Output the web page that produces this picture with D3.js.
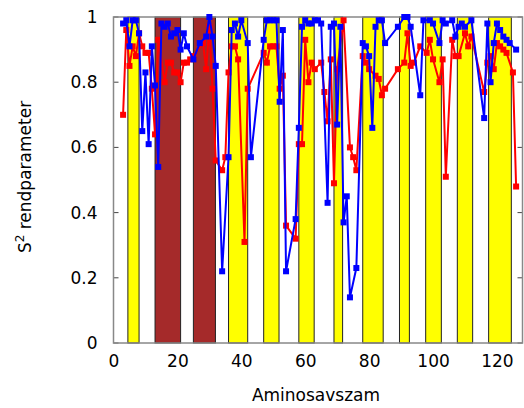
<!DOCTYPE html>
<html>
<head>
<meta charset="utf-8">
<script src="https://cdn.jsdelivr.net/npm/d3@7"></script>
<style>
body{margin:0;background:#fff;}
text{font-family:"DejaVu Sans",sans-serif;}
</style>
</head>
<body>
<svg id="chart" width="524" height="408"></svg>
<script>
// Shaded regions (residue ranges)
const yellowStart = [4.5, 36, 47, 58, 69, 78, 89.5, 97.7, 107.6, 117.4];
const yellowEnd   = [8, 42, 51.8, 62.8, 71.7, 84.4, 92.6, 102.6, 112.4, 124.5];
const brownStart = [13, 25];
const brownEnd   = [21, 31.9];

// Red series
const redX = [3,4,5,6,7,8,9,10,11,12,13,14,16,17,18,19,20,21,22,23,24,25,28,29,30,31,32,34,35,36,37,38,39,41,42,47,48,49,50,51,52,53,54,57,58,59,60,61,62,63,65,66,67,68,69,70,72,74,75,76,78,79,80,82,83,84,85,89,91,92,93,94,96,98,99,100,102,103,104,106,107,108,110,111,112,116,117,118,119,120,121,122,123,125,126];
const redY = [0.70,0.96,0.85,0.91,0.88,0.95,0.91,0.89,0.89,0.78,0.64,0.93,0.80,0.86,0.86,0.83,0.83,0.80,0.86,0.86,0.87,0.88,0.92,0.84,0.97,0.78,0.56,0.53,0.57,0.83,0.91,0.91,0.87,0.31,0.78,0.89,0.86,0.91,0.91,0.91,0.78,0.82,0.36,0.32,0.61,0.61,0.93,0.80,0.86,0.84,0.86,0.77,0.68,0.87,0.49,0.84,0.99,0.60,0.57,0.53,0.88,0.86,0.84,0.82,0.81,0.76,0.78,0.84,0.86,0.95,0.85,0.86,0.91,0.89,0.93,0.87,0.80,0.87,0.51,0.93,0.88,0.88,0.95,0.91,0.94,0.77,0.86,0.88,0.84,0.92,0.91,0.90,0.89,0.83,0.48];

// Blue series
const blueX = [3,4,5,6,7,8,9,10,11,12,13,14,15,16,17,18,19,20,21,22,23,25,27,29,30,31,32,34,36,37,38,39,40,42,43,47,48,49,50,51,52,53,54,57,58,59,60,61,62,63,64,65,67,68,69,70,71,72,73,74,76,78,79,80,81,82,83,84,85,89,91,92,93,96,97,99,100,102,103,104,106,107,108,109,110,112,116,117,118,119,120,121,122,123,124,126];
const blueY = [0.98,0.99,0.91,0.99,0.99,0.95,0.65,0.83,0.61,0.91,0.79,0.54,0.98,0.97,0.98,0.94,0.95,0.96,0.90,0.95,0.91,0.87,0.92,0.94,1.00,0.94,0.85,0.22,0.57,0.96,0.98,0.94,0.99,0.92,0.57,0.93,0.99,0.99,0.99,0.99,0.74,0.96,0.22,0.38,0.66,0.97,0.99,0.98,0.98,0.99,0.99,0.98,0.43,0.97,0.98,0.67,0.97,0.37,0.45,0.14,0.23,0.92,0.91,0.88,0.66,0.97,0.99,0.99,0.92,0.97,1.00,1.00,0.97,0.76,0.99,0.99,0.98,0.92,0.99,0.98,0.99,0.94,0.97,0.98,0.97,0.99,0.69,0.98,0.80,0.92,0.98,0.96,0.94,0.93,0.92,0.90];

const xTicks = [0,20,40,60,80,100,120];
const yTicks = [0,0.2,0.4,0.6,0.8,1];

const svg = d3.select("#chart");
const L = 113.5, R = 522.5, T = 17, B = 343;
const x = d3.scaleLinear().domain([0,128]).range([L,R]);
const y = d3.scaleLinear().domain([0,1]).range([B,T]);

// tick marks (inward), drawn under bars
const g = svg.append("g");
g.selectAll(".yl").data(yTicks).enter().append("line")
  .attr("x1",L).attr("x2",L+5).attr("y1",d=>y(d)).attr("y2",d=>y(d))
  .attr("stroke","#444").attr("stroke-width",1);
g.selectAll(".yr").data(yTicks).enter().append("line")
  .attr("x1",R).attr("x2",R-5).attr("y1",d=>y(d)).attr("y2",d=>y(d))
  .attr("stroke","#444").attr("stroke-width",1);

// regions
const yellow = yellowStart.map((s,i)=>({s, e:yellowEnd[i]}));
const brown = brownStart.map((s,i)=>({s, e:brownEnd[i]}));
svg.selectAll(".yb").data(yellow).enter().append("rect")
  .attr("x",d=>x(d.s)).attr("width",d=>x(d.e)-x(d.s))
  .attr("y",T).attr("height",B-T)
  .attr("fill","#ffff00").attr("stroke","#222").attr("stroke-width",1);
svg.selectAll(".bb").data(brown).enter().append("rect")
  .attr("x",d=>x(d.s)).attr("width",d=>x(d.e)-x(d.s))
  .attr("y",T).attr("height",B-T)
  .attr("fill","#a52a2a").attr("stroke","#222").attr("stroke-width",1);

// frame
svg.append("rect").attr("x",L).attr("y",T).attr("width",R-L).attr("height",B-T)
  .attr("fill","none").attr("stroke","#888").attr("stroke-width",1.5);

// axes labels
const xAxis = d3.axisBottom(x).tickValues(xTicks).tickSize(0).tickPadding(12).tickFormat(d3.format("d"));
const xg = svg.append("g").attr("transform",`translate(0,${B})`).call(xAxis);
xg.select(".domain").remove();
xg.selectAll("text").attr("font-size",17).attr("font-family","DejaVu Sans").attr("fill","#000");

const yAxis = d3.axisLeft(y).tickValues(yTicks).tickSize(0).tickPadding(16).tickFormat(d=>d3.format("~g")(d));
const yg = svg.append("g").attr("transform",`translate(${L},0)`).call(yAxis);
yg.select(".domain").remove();
yg.selectAll("text").attr("font-size",17).attr("font-family","DejaVu Sans").attr("fill","#000");

// titles
svg.append("text").attr("x",(L+R)/2-2).attr("y",401).attr("text-anchor","middle")
  .attr("font-size",17).text("Aminosavszam");
const yt = svg.append("text").attr("transform","translate(31,177) rotate(-90)")
  .attr("text-anchor","middle").attr("font-size",17);
yt.append("tspan").text("S");
yt.append("tspan").attr("dy",-7).attr("font-size",12).text("2");
yt.append("tspan").attr("dy",7).text(" rendparameter");

// series
function drawSeries(xs, ys, color){
  const pts = xs.map((v,i)=>[v, ys[i]]);
  const line = d3.line().x(d=>x(d[0])).y(d=>y(d[1]));
  svg.append("path").datum(pts).attr("d",line)
    .attr("fill","none").attr("stroke",color).attr("stroke-width",2);
  svg.append("g").selectAll("rect").data(pts).enter().append("rect")
    .attr("x",d=>x(d[0])-3).attr("y",d=>y(d[1])-3)
    .attr("width",6).attr("height",6).attr("fill",color);
}
drawSeries(redX, redY, "#ff0000");
drawSeries(blueX, blueY, "#0000ff");
</script>
</body>
</html>
